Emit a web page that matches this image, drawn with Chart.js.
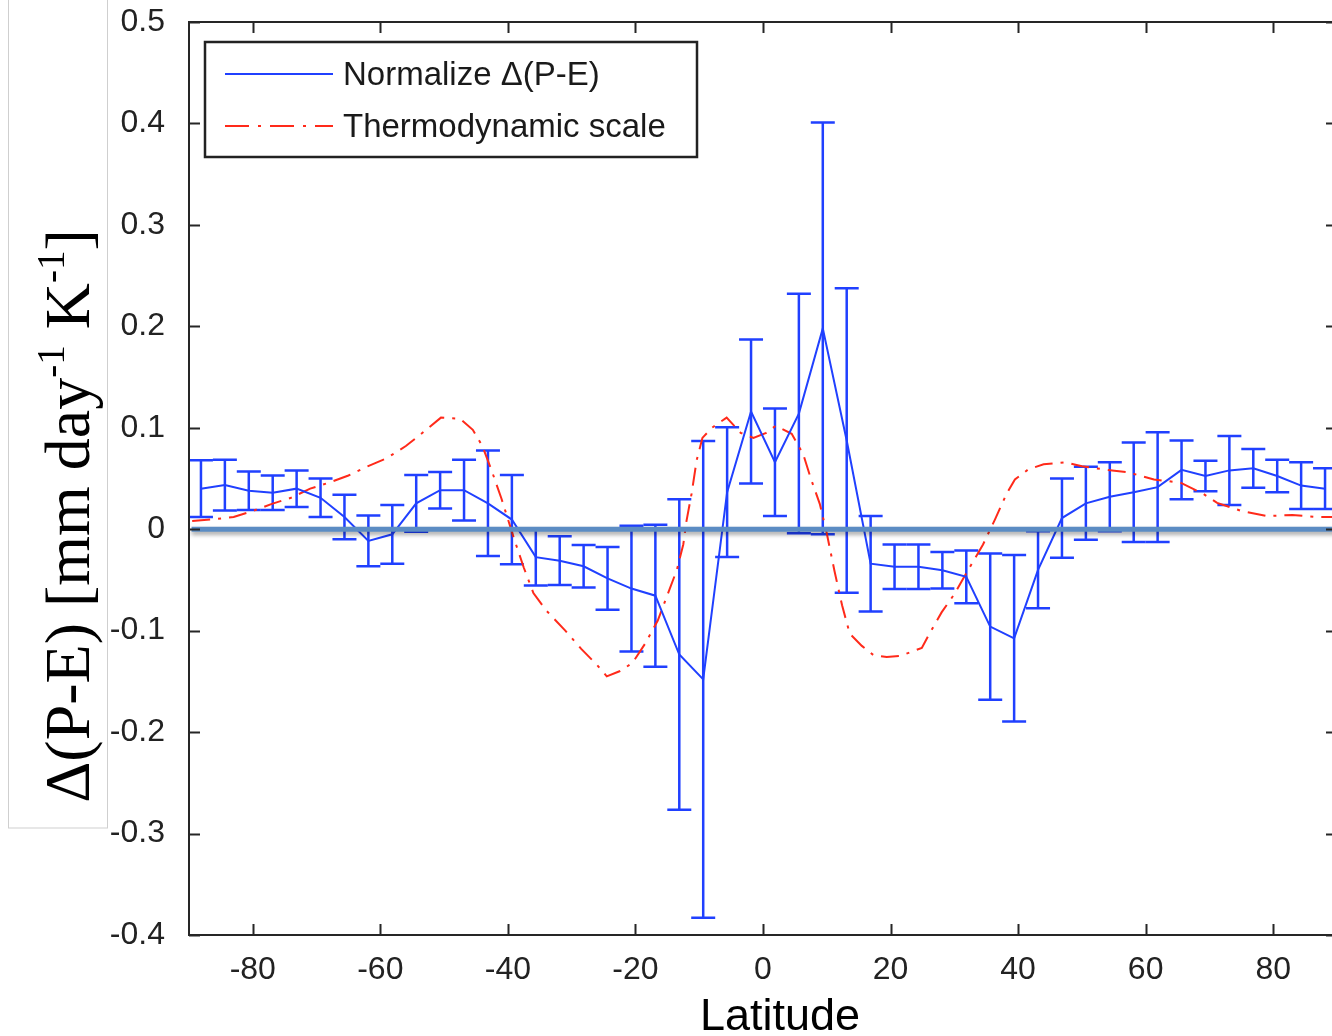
<!DOCTYPE html>
<html>
<head>
<meta charset="utf-8">
<script src="https://cdn.jsdelivr.net/npm/chart.js@4.4.1/dist/chart.umd.min.js"></script>
<style>
  html, body { margin: 0; padding: 0; background: #fff; overflow: hidden; }
  #wrap { width: 1332px; height: 1036px; overflow: hidden; position: relative; }
  canvas { display: block; }
</style>
</head>
<body>
<div id="wrap"><canvas id="chart" width="1340" height="1036"></canvas></div>
<script>
// latitude of each band (deg)
const lat = [-88.125, -84.375, -80.625, -76.875, -73.125, -69.375, -65.625, -61.875,
  -58.125, -54.375, -50.625, -46.875, -43.125, -39.375, -35.625, -31.875,
  -28.125, -24.375, -20.625, -16.875, -13.125, -9.375, -5.625, -1.875,
  1.875, 5.625, 9.375, 13.125, 16.875, 20.625, 24.375, 28.125,
  31.875, 35.625, 39.375, 43.125, 46.875, 50.625, 54.375, 58.125,
  61.875, 65.625, 69.375, 73.125, 76.875, 80.625, 84.375, 88.125];

// Normalize Δ(P-E) mean and half error
const peMean = [0.040, 0.0435, 0.038, 0.036, 0.040, 0.031, 0.012, -0.0115,
  -0.005, 0.0255, 0.0385, 0.0385, 0.0255, 0.0095, -0.0275, -0.031,
  -0.0365, -0.0485, -0.0585, -0.0655, -0.1235, -0.148, 0.0365, 0.116,
  0.066, 0.114, 0.198, 0.0875, -0.034, -0.037, -0.037, -0.0405,
  -0.047, -0.096, -0.1075, -0.040, 0.011, 0.0255, 0.032, 0.0365,
  0.0415, 0.0585, 0.0525, 0.058, 0.060, 0.0525, 0.043, 0.040];
const peErr = [0.028, 0.025, 0.019, 0.017, 0.018, 0.019, 0.022, 0.025,
  0.029, 0.028, 0.018, 0.030, 0.052, 0.044, 0.028, 0.024,
  0.021, 0.031, 0.062, 0.070, 0.153, 0.235, 0.064, 0.071,
  0.053, 0.118, 0.203, 0.150, 0.047, 0.022, 0.022, 0.018,
  0.026, 0.072, 0.082, 0.038, 0.039, 0.036, 0.034, 0.049,
  0.054, 0.029, 0.015, 0.034, 0.019, 0.016, 0.023, 0.020];

// Thermodynamic scale curve
const thermoLat = [-89.5, -86, -83, -80, -77, -74, -71, -68, -65, -62, -59, -56, -53, -50.5,
  -47.5, -45.5, -44, -42.5, -41, -40, -39, -37.5, -36, -34, -31, -28.5, -26, -24.5,
  -22.5, -20.5, -18.5, -16.5, -15, -13.5, -12.5, -12, -11.2, -10.4, -9.5, -8, -5.7,
  -3.5, -1.5, 0.5, 2, 4.5, 6.3, 7.5, 8.9, 10, 11.2, 12.4, 13.6, 15.5, 17.3, 19.4,
  21.5, 24.9, 26.1, 28, 30, 32, 34.5, 36.4, 38.2, 39.5, 41.6, 44, 47.4, 50, 53.4,
  57.3, 61.3, 65.4, 69, 71.2, 75, 79, 83, 87, 89.3];
const thermoVal = [0.008, 0.010, 0.012, 0.018, 0.025, 0.031, 0.040, 0.046, 0.053, 0.062, 0.070, 0.082, 0.097, 0.110,
  0.109, 0.098, 0.082, 0.057, 0.030, 0.010, -0.010, -0.038, -0.063, -0.080, -0.100, -0.118, -0.134, -0.145,
  -0.140, -0.132, -0.113, -0.090, -0.065, -0.040, -0.015, 0.008, 0.035, 0.068, 0.090, 0.100, 0.110,
  0.095, 0.090, 0.095, 0.102, 0.094, 0.074, 0.050, 0.025, -0.004, -0.041, -0.075, -0.103, -0.115, -0.124, -0.126,
  -0.125, -0.117, -0.103, -0.082, -0.064, -0.042, -0.015, 0.010, 0.035, 0.049, 0.059, 0.064, 0.066, 0.062, 0.059,
  0.056, 0.049, 0.046, 0.035, 0.026, 0.018, 0.013, 0.014, 0.012, 0.012];

const xTicks = [-80, -60, -40, -20, 0, 20, 40, 60, 80];
const yTicks = [-0.4, -0.3, -0.2, -0.1, 0, 0.1, 0.2, 0.3, 0.4, 0.5];

const blue = '#2040ff';
const red = '#ff2a1a';
const sans = '"Liberation Sans", Arial, sans-serif';
const serif = '"Liberation Serif", "Times New Roman", serif';

// error bars under the lines
const errorBars = {
  id: 'errorBars',
  beforeDatasetsDraw(chart) {
    const { ctx, scales: { x, y }, chartArea } = chart;
    ctx.save();
    ctx.beginPath();
    ctx.rect(chartArea.left, chartArea.top, chartArea.right - chartArea.left, chartArea.bottom - chartArea.top);
    ctx.clip();
    ctx.strokeStyle = blue;
    ctx.lineWidth = 2.5;
    lat.forEach((la, i) => {
      const px = x.getPixelForValue(la);
      const top = y.getPixelForValue(peMean[i] + peErr[i]);
      const bot = y.getPixelForValue(peMean[i] - peErr[i]);
      ctx.beginPath();
      ctx.moveTo(px, top); ctx.lineTo(px, bot);
      ctx.moveTo(px - 12, top); ctx.lineTo(px + 12, top);
      ctx.moveTo(px - 12, bot); ctx.lineTo(px + 12, bot);
      ctx.stroke();
    });
    ctx.restore();
  }
};

// shadow under zero line
const zeroShadow = {
  id: 'zeroShadow',
  beforeDatasetDraw(chart, args) {
    if (args.index !== 0) return;
    const ctx = chart.ctx;
    ctx.save();
    ctx.shadowColor = 'rgba(0,0,0,0.35)';
    ctx.shadowBlur = 4;
    ctx.shadowOffsetY = 3;
  },
  afterDatasetDraw(chart, args) {
    if (args.index !== 0) return;
    chart.ctx.restore();
  }
};

// box, inward ticks, legend, axis titles
const decorations = {
  id: 'decorations',
  beforeDraw(chart) {
    const ctx = chart.ctx;
    ctx.save();
    ctx.fillStyle = '#fff';
    ctx.fillRect(0, 0, chart.width, chart.height);
    ctx.restore();
  },
  afterDraw(chart) {
    const { ctx, chartArea: a, scales: { x, y } } = chart;
    ctx.save();
    // axes box
    ctx.strokeStyle = '#262626';
    ctx.lineWidth = 2;
    ctx.strokeRect(a.left, a.top, a.right - a.left, a.bottom - a.top);
    const tl = 11;
    ctx.beginPath();
    xTicks.forEach(v => {
      const px = Math.round(x.getPixelForValue(v)) + 0.5;
      ctx.moveTo(px, a.bottom); ctx.lineTo(px, a.bottom - tl);
      ctx.moveTo(px, a.top); ctx.lineTo(px, a.top + tl);
    });
    yTicks.forEach(v => {
      const py = Math.round(y.getPixelForValue(v)) + 0.5;
      ctx.moveTo(a.left, py); ctx.lineTo(a.left + tl, py);
      ctx.moveTo(a.right, py); ctx.lineTo(a.right - tl, py);
    });
    ctx.stroke();

    // legend
    ctx.fillStyle = '#fff';
    ctx.fillRect(205, 42, 492, 115);
    ctx.strokeStyle = '#222';
    ctx.lineWidth = 2.5;
    ctx.strokeRect(205, 42, 492, 115);
    ctx.lineWidth = 2;
    ctx.strokeStyle = blue;
    ctx.beginPath(); ctx.moveTo(225, 74); ctx.lineTo(333, 74); ctx.stroke();
    ctx.strokeStyle = red;
    ctx.setLineDash([24, 9, 3, 9]);
    ctx.beginPath(); ctx.moveTo(225, 126); ctx.lineTo(333, 126); ctx.stroke();
    ctx.setLineDash([]);
    ctx.fillStyle = '#1a1a1a';
    ctx.font = '33px ' + sans;
    ctx.textBaseline = 'middle';
    ctx.textAlign = 'left';
    ctx.fillText('Normalize \u0394(P-E)', 343, 76);
    ctx.fillText('Thermodynamic scale', 343, 128);

    // x title
    ctx.font = '45px ' + sans;
    ctx.fillStyle = '#000';
    ctx.textAlign = 'center';
    ctx.textBaseline = 'alphabetic';
    ctx.fillText('Latitude', 780, 1030);

    // y title box
    ctx.strokeStyle = '#cfcfcf';
    ctx.lineWidth = 1;
    ctx.strokeRect(8.5, -1, 99, 829);
    // y title text with superscripts
    const big = '64px ' + serif, small = '39px ' + serif;
    const parts = [
      ['\u0394(P-E) [mm day', big, 0],
      ['-1', small, -25],
      [' K', big, 0],
      ['-1', small, -25],
      [']', big, 0]
    ];
    let total = 0;
    parts.forEach(p => { ctx.font = p[1]; total += ctx.measureText(p[0]).width; });
    ctx.translate(89, 516);
    ctx.rotate(-Math.PI / 2);
    ctx.textAlign = 'left';
    let cx = -total / 2;
    parts.forEach(p => {
      ctx.font = p[1];
      ctx.fillText(p[0], cx, p[2]);
      cx += ctx.measureText(p[0]).width;
    });
    ctx.restore();
  }
};

new Chart(document.getElementById('chart'), {
  type: 'line',
  data: {
    datasets: [
      {
        label: 'zero',
        data: [{ x: -89.6, y: 0 }, { x: 90, y: 0 }],
        borderColor: '#5b8cc3',
        borderWidth: 5,
        pointRadius: 0,
        order: 0
      },
      {
        label: 'Normalize \u0394(P-E)',
        data: lat.map((la, i) => ({ x: la, y: peMean[i] })),
        borderColor: blue,
        borderWidth: 2,
        pointRadius: 0,
        tension: 0,
        order: 1
      },
      {
        label: 'Thermodynamic scale',
        data: thermoLat.map((la, i) => ({ x: la, y: thermoVal[i] })),
        borderColor: red,
        borderWidth: 2,
        borderDash: [18, 8, 3, 8],
        pointRadius: 0,
        tension: 0,
        order: 2
      }
    ]
  },
  options: {
    responsive: false,
    animation: false,
    devicePixelRatio: 1,
    layout: { padding: { left: 0, top: 22, right: 3, bottom: 0 } },
    plugins: { legend: { display: false }, tooltip: { enabled: false } },
    scales: {
      x: {
        type: 'linear',
        min: -90,
        max: 90,
        grid: { display: false },
        border: { display: false },
        afterBuildTicks: s => { s.ticks = xTicks.map(v => ({ value: v })); },
        afterFit: s => { s.height = 101; s.paddingLeft = 0; s.paddingRight = 0; },
        ticks: { color: '#222', font: { family: sans, size: 32 }, padding: 8, maxRotation: 0 }
      },
      y: {
        min: -0.4,
        max: 0.5,
        grid: { display: false },
        border: { display: false },
        afterBuildTicks: s => { s.ticks = yTicks.map(v => ({ value: v })); },
        afterFit: s => { s.width = 189; s.paddingTop = 0; s.paddingBottom = 0; },
        ticks: {
          color: '#222',
          font: { family: sans, size: 32 },
          padding: 16,
          callback: v => (Math.abs(v) < 1e-9 ? '0' : String(Math.round(v * 10) / 10))
        }
      }
    }
  },
  plugins: [errorBars, zeroShadow, decorations]
});
</script>
</body>
</html>
